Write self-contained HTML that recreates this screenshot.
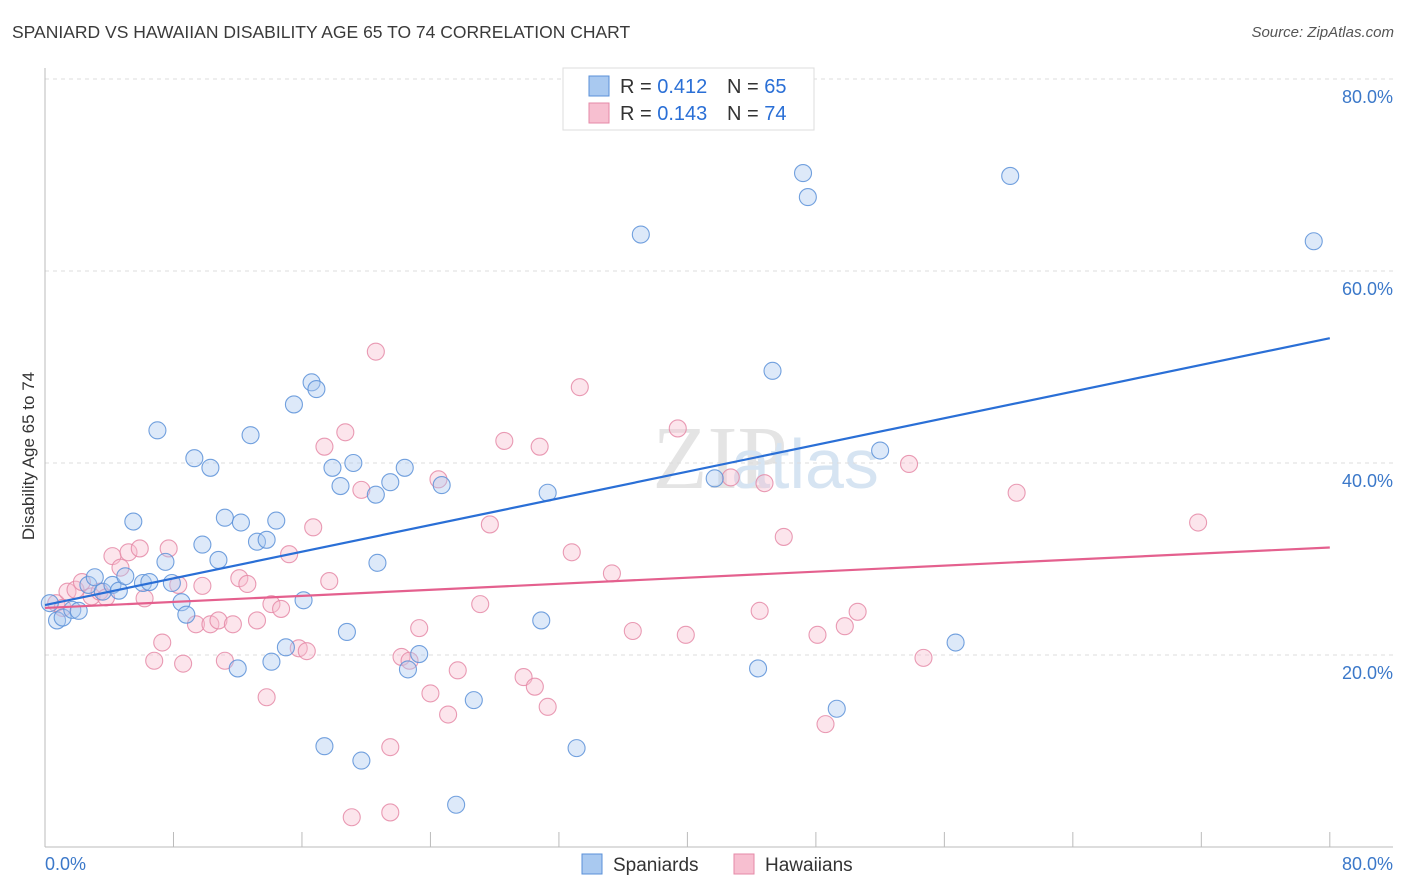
<!DOCTYPE html>
<html><head><meta charset="utf-8"><style>
body{margin:0;background:#fff;font-family:"Liberation Sans",sans-serif;}
#wrap{position:relative;width:1406px;height:892px;overflow:hidden;}
.title{position:absolute;left:12px;top:22px;font-size:17.5px;color:#3a3a3a;}
.source{position:absolute;right:12px;top:24px;font-size:15px;color:#555;font-style:italic;}
</style></head><body>
<div id="wrap">
<div class="title">SPANIARD VS HAWAIIAN DISABILITY AGE 65 TO 74 CORRELATION CHART</div>
<div class="source">Source: ZipAtlas.com</div>
<svg id="svg" width="1406" height="892" style="position:absolute;left:0;top:0"></svg>
</div>
<script>
const blueX=[0.75,1.1,0.3,1.7,2.1,2.7,3.1,3.6,4.2,4.6,5.0,5.5,6.1,6.5,7.0,7.5,7.9,8.5,8.8,9.3,9.8,10.3,10.8,11.2,12.0,12.2,12.8,13.2,13.8,14.1,14.4,15.0,15.5,16.1,16.6,16.9,17.4,17.9,18.4,18.8,19.2,19.7,20.6,20.7,21.5,22.4,22.6,23.3,24.7,25.6,26.7,30.9,31.3,33.1,37.1,41.7,44.4,45.3,47.2,47.5,49.3,52.0,56.7,60.1,79.0];
const blueY=[23.6,23.9,25.4,24.7,24.6,27.3,28.1,26.6,27.3,26.7,28.2,33.9,27.5,27.6,43.4,29.7,27.5,25.5,24.2,40.5,31.5,39.5,29.9,34.3,18.6,33.8,42.9,31.8,32.0,19.3,34.0,20.8,46.1,25.7,48.4,47.7,10.5,39.5,37.6,22.4,40.0,9.0,36.7,29.6,38.0,39.5,18.5,20.1,37.7,4.4,15.3,23.6,36.9,10.3,63.8,38.4,18.6,49.6,70.2,67.7,14.4,41.3,21.3,69.9,63.1];
const pinkX=[0.7,1.1,1.4,1.9,2.3,2.9,3.4,3.8,4.2,4.7,5.2,5.9,6.2,6.8,7.3,7.7,8.3,8.6,9.4,9.8,10.3,10.8,11.2,11.7,12.1,12.6,13.2,13.8,14.1,14.7,15.2,15.8,16.3,16.7,17.4,17.7,18.7,19.1,19.7,20.6,21.5,21.5,22.2,22.7,23.3,24.0,24.5,25.1,25.7,27.1,27.7,28.6,29.8,30.5,30.8,31.3,32.8,33.3,35.3,36.6,39.4,39.9,42.7,44.5,44.8,46.0,48.1,48.6,49.8,50.6,53.8,54.7,60.5,71.8];
const pinkY=[25.4,24.9,26.6,26.8,27.6,26.1,26.6,26.0,30.3,29.1,30.7,31.1,25.9,19.4,21.3,31.1,27.3,19.1,23.2,27.2,23.2,23.6,19.4,23.2,28.0,27.4,23.6,15.6,25.3,24.8,30.5,20.7,20.4,33.3,41.7,27.7,43.2,3.1,37.2,51.6,3.6,10.4,19.8,19.4,22.8,16.0,38.3,13.8,18.4,25.3,33.6,42.3,17.7,16.7,41.7,14.6,30.7,47.9,28.5,22.5,43.6,22.1,38.5,24.6,37.9,32.3,22.1,12.8,23.0,24.5,39.9,19.7,36.9,33.8];
const blueTrend=[25.2,53.0];
const pinkTrend=[24.9,31.2];
const yTicks=[20,40,60,80];
const yTickLabels=["20.0%","40.0%","60.0%","80.0%"];
const xTicks=[0,8,16,24,32,40,48,56,64,72,80];

const svg=document.getElementById('svg');
const NS='http://www.w3.org/2000/svg';
const X=v=>45+v*16.06, Y=v=>847-v*9.6;
function mk(t,a){const e=document.createElementNS(NS,t);for(const k in a)e.setAttribute(k,a[k]);svg.appendChild(e);return e;}
let wm=mk('text',{x:720,y:488,'text-anchor':'middle','font-size':90,fill:'#e4e4e4','font-family':'Liberation Serif,serif'});
wm.textContent='ZIP';


let wm2=mk('text',{x:805,y:488,'text-anchor':'middle','font-size':70,fill:'#d6e4f2','font-family':'Liberation Sans,sans-serif'});
wm2.textContent='atlas';


yTicks.forEach((t,i)=>{
 let g=mk('line',{x1:45,x2:1393,y1:Y(t),y2:Y(t),stroke:'#ddd','stroke-dasharray':'4,4'});
 
 
 let l=mk('text',{x:1393,y:Y(t)+24,'text-anchor':'end','font-size':18,fill:'#3b78c9'});
 l.textContent=yTickLabels[i];
 
 
});
let ax=mk('line',{x1:45,x2:45,y1:68,y2:847,stroke:'#bbb'});


let bx=mk('line',{x1:45,x2:1393,y1:847,y2:847,stroke:'#bbb'});


xTicks.forEach(t=>{
 let k=mk('line',{x1:X(t),x2:X(t),y1:832,y2:847,stroke:'#bbb'});
 
 
});
let x0=mk('text',{x:45,y:870,'font-size':18,fill:'#3b78c9'});x0.textContent='0.0%';


let x1=mk('text',{x:1393,y:870,'text-anchor':'end','font-size':18,fill:'#3b78c9'});x1.textContent='80.0%';


let yt=mk('text',{x:34,y:456,'text-anchor':'middle','font-size':17,fill:'#333',transform:'rotate(-90 34 456)'});
yt.textContent='Disability Age 65 to 74';


function pts(xs,ys,fill,stroke,name){xs.forEach((v,i)=>{
 let c=mk('circle',{cx:X(v),cy:Y(ys[i]),r:8.5,fill:fill,'fill-opacity':0.4,stroke:stroke,'stroke-width':1.1,'stroke-opacity':0.85});
 
 
});}
pts(pinkX,pinkY,'#f7bfd0','#e58aa7','hawaiian-point');
pts(blueX,blueY,'#a9c9f0','#5a90d8','spaniard-point');
let bt=mk('line',{x1:X(0),y1:Y(blueTrend[0]),x2:X(80),y2:Y(blueTrend[1]),stroke:'#2a6fd6','stroke-width':2.2});


let pt=mk('line',{x1:X(0),y1:Y(pinkTrend[0]),x2:X(80),y2:Y(pinkTrend[1]),stroke:'#e4608e','stroke-width':2.2});


let lb=mk('rect',{x:563,y:68,width:251,height:62,fill:'#fff',stroke:'#ddd'});


[[0,'#a9c9f0','#5a90d8','0.412','65'],[1,'#f7bfd0','#e58aa7','0.143','74']].forEach(r=>{
 const y=86+r[0]*27;
 let s=mk('rect',{x:589,y:y-10,width:20,height:20,fill:r[1],stroke:r[2]});
 
 
 let t=mk('text',{x:620,y:y+7,'font-size':20,fill:'#333'});
 t.innerHTML='R = <tspan fill="#2a6fd6">'+r[3]+'</tspan>';
 
 
 let n=mk('text',{x:727,y:y+7,'font-size':20,fill:'#333'});
 n.innerHTML='N = <tspan fill="#2a6fd6">'+r[4]+'</tspan>';
 
 
});
[[582,'#a9c9f0','#5a90d8','Spaniards'],[734,'#f7bfd0','#e58aa7','Hawaiians']].forEach(r=>{
 let s=mk('rect',{x:r[0],y:854,width:20,height:20,fill:r[1],stroke:r[2]});
 
 
 let t=mk('text',{x:r[0]+31,y:871,'font-size':19,fill:'#333'});
 t.textContent=r[3];
 
 
});
</script>
</body></html>
